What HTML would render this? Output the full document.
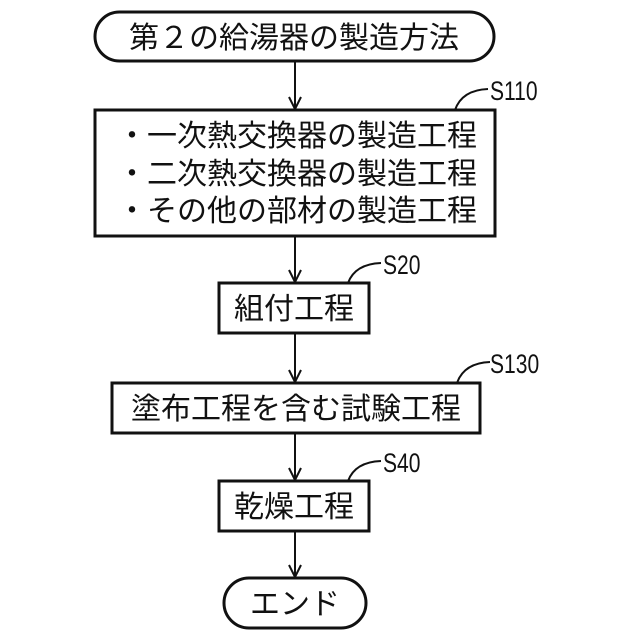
<!DOCTYPE html>
<html><head><meta charset="utf-8"><style>
html,body{margin:0;padding:0;background:#fff;}
svg{display:block;}
text{font-family:"Liberation Sans","Noto Sans CJK JP",sans-serif;fill:#111;}
</style></head><body>
<svg width="640" height="640" viewBox="0 0 640 640" xmlns="http://www.w3.org/2000/svg">
<g fill="none" stroke="#111" stroke-width="3">
<rect x="95" y="12" width="399" height="49" rx="24.5"/>
<rect x="95" y="110" width="400" height="126"/>
<rect x="219" y="283" width="150" height="50"/>
<rect x="112" y="383" width="368" height="50"/>
<rect x="219" y="481" width="150" height="50"/>
<rect x="224" y="578" width="142" height="50" rx="25"/>
</g>
<g fill="none" stroke="#111" stroke-width="2">
<path d="M295 62V109M289 97L295 109L301 97"/>
<path d="M295 236V282M289 270L295 282L301 270"/>
<path d="M295 333V382M289 370L295 382L301 370"/>
<path d="M295 433V480M289 468L295 480L301 468"/>
<path d="M295 531V577M289 565L295 577L301 565"/>
<path d="M455 110Q462 90 488 89"/>
<path d="M348 283Q355 264 381 263"/>
<path d="M457 383Q464 363 490 362"/>
<path d="M348 481Q355 462 381 461"/>
</g>
<g font-size="30">
<text x="294" y="48" text-anchor="middle">第２の給湯器の製造方法</text>
<text x="117" y="146">・一次熱交換器の製造工程</text>
<text x="117" y="184">・二次熱交換器の製造工程</text>
<text x="117" y="221">・その他の部材の製造工程</text>
<text x="294" y="319" text-anchor="middle">組付工程</text>
<text x="296" y="419" text-anchor="middle">塗布工程を含む試験工程</text>
<text x="294" y="517" text-anchor="middle">乾燥工程</text>
<text x="295" y="614" text-anchor="middle">エンド</text>
</g>
<g font-size="27">
<text x="490" y="100" transform="translate(490 0) scale(0.78 1) translate(-490 0)">S110</text>
<text x="383" y="274" transform="translate(383 0) scale(0.78 1) translate(-383 0)">S20</text>
<text x="490" y="373" transform="translate(490 0) scale(0.78 1) translate(-490 0)">S130</text>
<text x="383" y="472" transform="translate(383 0) scale(0.78 1) translate(-383 0)">S40</text>
</g>
</svg>
</body></html>
